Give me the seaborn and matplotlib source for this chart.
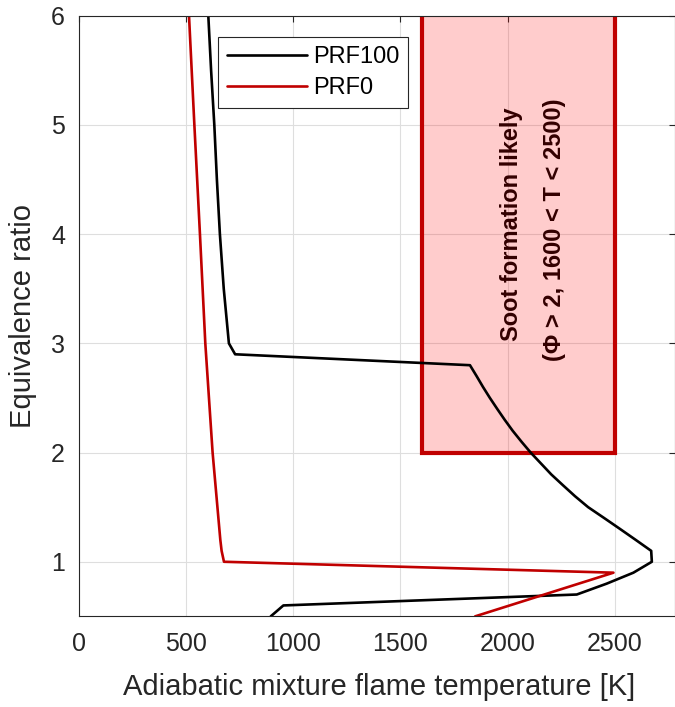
import numpy as np
import pandas as pd
import matplotlib
matplotlib.use("Agg")
import matplotlib.pyplot as plt
import seaborn as sns
from matplotlib.patches import Rectangle

# equivalence ratio vs adiabatic flame temperature
phi_prf100 = [0.5, 0.6, 0.7, 0.8, 0.9, 1.0, 1.1, 1.2, 1.3, 1.4, 1.5, 1.6, 1.7, 1.8, 1.9,
              2.0, 2.1, 2.2, 2.3, 2.4, 2.5, 2.6, 2.7, 2.8, 2.9, 3.0, 3.5, 4.0, 4.5, 5.0, 5.5, 6.0]
T_prf100 = [895, 954, 2322, 2462, 2586, 2672, 2669, 2597, 2524, 2450, 2375, 2314, 2258, 2203, 2155,
            2107, 2064, 2023, 1986, 1951, 1917, 1885, 1855, 1824, 729, 700, 676, 658, 644, 632, 617, 604]

phi_prf0 = [0.5, 0.9, 1.0, 1.1, 1.2, 2.0, 3.0, 4.0, 5.0, 6.0]
T_prf0 = [1848, 2493, 677, 666, 660, 624, 590, 565, 539, 514]

# soot region
soot_T = [1600, 2500]
soot_phi_min = 2

line1 = "Soot formation likely"
line2 = "(\u03a6 > 2, 1600 < T < 2500)"

df = pd.concat([
    pd.DataFrame({"fuel": "PRF100", "phi": phi_prf100, "T": T_prf100}),
    pd.DataFrame({"fuel": "PRF0", "phi": phi_prf0, "T": T_prf0}),
])

sns.set_style("white")
plt.rcParams['font.family'] = ['Liberation Sans', 'DejaVu Sans']

fig = plt.figure(figsize=(6.75, 7.07), dpi=100)
ax = fig.add_axes([0.1167, 0.1282, 0.8833, 0.8495])

red = '#c00000'
ax.grid(True, color='#dedede', linewidth=0.8, zorder=0.5)
ax.set_axisbelow(True)

# text goes under the translucent box, like the original
ax.text(2016, 4.09, line1, rotation=90, ha='center', va='center', fontsize=17,
        fontweight='bold', color='black', zorder=1)
ax.text(2218, 4.04, line2, rotation=90, ha='center', va='center', fontsize=17,
        fontweight='bold', color='black', zorder=1)
ax.add_patch(Rectangle((soot_T[0], soot_phi_min), soot_T[1] - soot_T[0], 5,
                       facecolor=(1, 0, 0, 0.2), edgecolor=red, linewidth=3, zorder=1.5))

sns.lineplot(data=df, x="T", y="phi", hue="fuel", palette={"PRF100": "black", "PRF0": red},
             orient="y", estimator=None, linewidth=1.9, ax=ax, zorder=2)

ax.set_xlim(0, 2780)
ax.set_ylim(0.5, 6)
ax.set_xticks([0, 500, 1000, 1500, 2000, 2500])
ax.set_yticks([1, 2, 3, 4, 5, 6])

ax.tick_params(axis='both', direction='in', length=4, width=0.8, colors='#262626',
               labelsize=18, top=True, right=True)
ax.tick_params(axis='x', pad=11)
ax.tick_params(axis='y', pad=10)
for s in ax.spines.values():
    s.set_color('#262626')
    s.set_linewidth(0.8)

ax.set_xlabel("Adiabatic mixture flame temperature [K]", fontsize=21, color='#262626')
ax.set_ylabel("Equivalence ratio", fontsize=21, color='#262626')
ax.xaxis.set_label_coords(0.504, -0.094)
ax.yaxis.set_label_coords(-0.070, 0.5)

leg = ax.legend(loc='upper left', bbox_to_anchor=(0.234, 0.964), borderaxespad=0,
                fontsize=17, handlelength=3.39, handletextpad=0.25, borderpad=0.36,
                labelspacing=0.4, fancybox=False, framealpha=1, edgecolor='#262626')
leg.get_frame().set_linewidth(0.8)
for t in leg.get_texts():
    t.set_color('black')

fig.savefig("out.png", dpi=100)
